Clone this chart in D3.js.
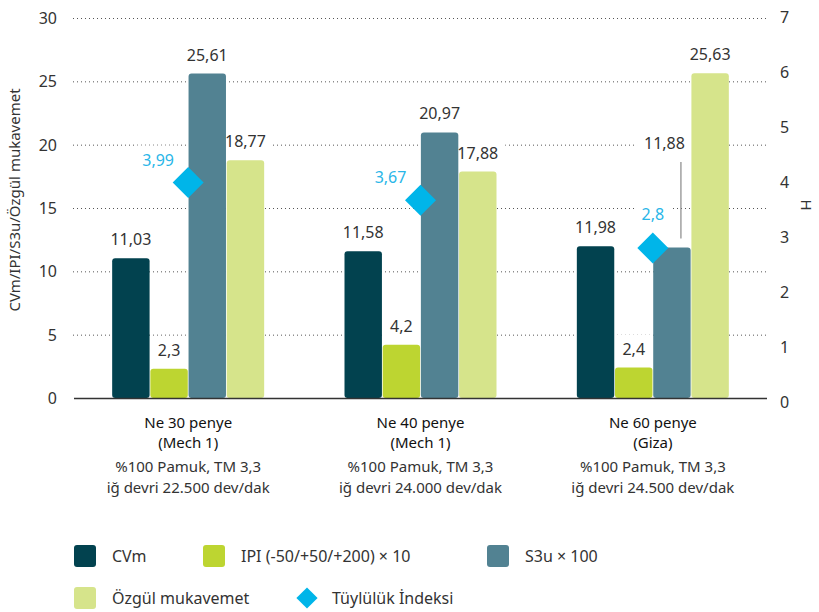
<!DOCTYPE html>
<html>
<head>
<meta charset="utf-8">
<title>Ne penye iplik karşılaştırma</title>
<script src="https://d3js.org/d3.v7.min.js"></script>
<style>
  body { margin: 0; background: #fff; }
  svg text { font-family: "Noto Sans", "Open Sans", sans-serif; fill: #333; }
</style>
</head>
<body>
<div id="chart"></div>
<script>
// data
var categories = ["Ne 30 penye", "Ne 40 penye", "Ne 60 penye"];
var catLine2 = ["(Mech 1)", "(Mech 1)", "(Giza)"];
var catLine3 = ["%100 Pamuk, TM 3,3", "%100 Pamuk, TM 3,3", "%100 Pamuk, TM 3,3"];
var catLine4 = ["iğ devri 22.500 dev/dak", "iğ devri 24.000 dev/dak", "iğ devri 24.500 dev/dak"];

var seriesNames = ["CVm", "IPI (-50/+50/+200) × 10", "S3u × 100", "Özgül mukavemet"];
var cvm = [11.03, 11.58, 11.98];
var ipi = [2.3, 4.2, 2.4];
var s3u = [25.61, 20.97, 11.88];
var ozgul = [18.77, 17.88, 25.63];
var tuyluluk = [3.99, 3.67, 2.8];
var tuylulukName = "Tüylülük İndeksi";

var leftTicks = [0, 5, 10, 15, 20, 25, 30];
var rightTicks = [0, 1, 2, 3, 4, 5, 6, 7];

var colors = ["#02424f", "#bdd531", "#528292", "#d6e48b"];
var diamondColor = "#00b5e9";

var w = 819, h = 612;
var svg = d3.select("#chart").append("svg").attr("width", w).attr("height", h);

var x0 = d3.scaleBand().domain(categories).range([72, 769]).padding(0);
var x1 = d3.scaleBand().domain(d3.range(4)).range([-76, 76]).paddingInner(0.02);
var y = d3.scaleLinear().domain([0, 30]).range([398, 18]);
var y2 = d3.scaleLinear().domain([0, 7]).range([402, 17]);

var fmt = function(v){ return String(v).replace(".", ","); };

// gridlines
svg.append("g").selectAll("line")
  .data(leftTicks.filter(function(d){ return d > 0; }))
  .enter().append("line")
  .attr("x1", 73).attr("x2", 767)
  .attr("y1", function(d){ return y(d) + 0.5; })
  .attr("y2", function(d){ return y(d) + 0.5; })
  .attr("stroke", "#555").attr("stroke-width", 1)
  .attr("stroke-dasharray", "1,3");

// left axis
var leftAxis = svg.append("g").attr("transform", "translate(57,0)")
  .call(d3.axisLeft(y).tickValues(leftTicks).tickSize(0).tickPadding(0));
leftAxis.select(".domain").remove();
leftAxis.selectAll("text").style("font-size", "16px").attr("dy", "0.35em");

// right axis
var rightAxis = svg.append("g").attr("transform", "translate(780,0)")
  .call(d3.axisRight(y2).tickValues(rightTicks).tickFormat(d3.format("d")).tickSize(0).tickPadding(0));
rightAxis.select(".domain").remove();
rightAxis.selectAll("text").style("font-size", "16px").attr("dy", "0.35em");

svg.append("text")
  .attr("transform", "translate(20,200) rotate(-90)")
  .attr("text-anchor", "middle")
  .style("font-size", "15px")
  .text("CVm/IPI/S3u/Özgül mukavemet");

svg.append("text")
  .attr("transform", "translate(801,205) rotate(90)")
  .attr("text-anchor", "middle")
  .style("font-size", "15px")
  .text("H");

// build rows for bars
var rows = [];
var allSeries = [cvm, ipi, s3u, ozgul];
categories.forEach(function(c, ci){
  allSeries.forEach(function(arr, si){
    rows.push({cat: c, ci: ci, si: si, value: arr[ci]});
  });
});

// label placement (raised label with leader for Ne 60 S3u)
function isRaised(d){ return d.ci === 2 && d.si === 2; }
function barCx(d){ return x0(d.cat) + x0.bandwidth() / 2 + x1(d.si) + x1.bandwidth() / 2; }

var bgLayer = svg.append("g");
var barLayer = svg.append("g");
var labelLayer = svg.append("g");

barLayer.selectAll("rect")
  .data(rows)
  .enter().append("rect")
  .attr("x", function(d){ return x0(d.cat) + x0.bandwidth() / 2 + x1(d.si); })
  .attr("y", function(d){ return y(d.value); })
  .attr("width", x1.bandwidth())
  .attr("height", function(d){ return y(0) - y(d.value); })
  .attr("rx", 3)
  .attr("fill", function(d){ return colors[d.si]; });

// baseline
svg.append("line")
  .attr("x1", 74).attr("x2", 767)
  .attr("y1", 398.5).attr("y2", 398.5)
  .attr("stroke", "#333").attr("stroke-width", 1.5);

// value labels
var barLabels = labelLayer.selectAll("text.val")
  .data(rows)
  .enter().append("text")
  .attr("class", "val")
  .attr("x", function(d){ return isRaised(d) ? barCx(d) + 13 : barCx(d); })
  .attr("y", function(d){ return isRaised(d) ? 149 : y(d.value) - 13; })
  .attr("text-anchor", function(d){ return isRaised(d) ? "end" : "middle"; })
  .style("font-size", "16px")
  .text(function(d){ return fmt(d.value); });

// leader line
rows.filter(isRaised).forEach(function(d){
  labelLayer.append("line")
    .attr("x1", barCx(d) + 9).attr("x2", barCx(d) + 9)
    .attr("y1", 162).attr("y2", y(d.value) - 9)
    .attr("stroke", "#888").attr("stroke-width", 1.2);
});

// diamonds
var diamondPlace = ["left", "left", "top"];
var diamond = d3.symbol().type(d3.symbolSquare).size(480);
var dGroup = labelLayer.selectAll("g.dia")
  .data(tuyluluk)
  .enter().append("g")
  .attr("class", "dia");
dGroup.append("path")
  .attr("d", diamond)
  .attr("fill", diamondColor)
  .attr("transform", function(d, i){
    return "translate(" + (x0(categories[i]) + x0.bandwidth() / 2) + "," + y2(d) + ") rotate(45)";
  });
var diaLabels = dGroup.append("text")
  .attr("x", function(d, i){
    var cx = x0(categories[i]) + x0.bandwidth() / 2;
    return diamondPlace[i] === "left" ? cx - 30 : cx;
  })
  .attr("y", function(d, i){
    return diamondPlace[i] === "left" ? y2(d) - 17 : y2(d) - 28;
  })
  .attr("text-anchor", "middle")
  .style("font-size", "16px")
  .style("fill", "#29b6e8")
  .text(function(d){ return fmt(d); });

// white boxes behind labels to break gridlines
function addBg(sel){
  sel.each(function(){
    var b = this.getBBox();
    bgLayer.append("rect")
      .attr("x", b.x - 7).attr("y", b.y - 3)
      .attr("width", b.width + 14).attr("height", b.height + 6)
      .attr("fill", "#fff");
  });
}
addBg(barLabels);
addBg(diaLabels);

// category labels
var catG = svg.append("g").selectAll("g")
  .data(categories)
  .enter().append("g")
  .attr("transform", function(d){ return "translate(" + (x0(d) + x0.bandwidth() / 2) + ",0)"; });
catG.append("text").attr("y", 428).attr("text-anchor", "middle")
  .style("font-size", "15px").style("fill", "#111")
  .text(function(d){ return d; });
catG.append("text").attr("y", 448).attr("text-anchor", "middle")
  .style("font-size", "15px").style("fill", "#111")
  .text(function(d, i){ return catLine2[i]; });
catG.append("text").attr("y", 472).attr("text-anchor", "middle")
  .style("font-size", "15px")
  .text(function(d, i){ return catLine3[i]; });
catG.append("text").attr("y", 493).attr("text-anchor", "middle")
  .style("font-size", "15px")
  .text(function(d, i){ return catLine4[i]; });

// legend
var legendPos = [[74, 556], [203, 556], [487, 556], [74, 598]];
var leg = svg.append("g").selectAll("g")
  .data(seriesNames)
  .enter().append("g")
  .attr("transform", function(d, i){ return "translate(" + legendPos[i][0] + "," + legendPos[i][1] + ")"; });
leg.append("rect")
  .attr("x", 0).attr("y", -11).attr("width", 22).attr("height", 22).attr("rx", 3)
  .attr("fill", function(d, i){ return colors[i]; });
leg.append("text")
  .attr("x", 38).attr("y", 0).attr("dy", "0.35em")
  .style("font-size", "16px")
  .text(function(d){ return d; });

var legD = svg.append("g").attr("transform", "translate(307,598)");
legD.append("path")
  .attr("d", d3.symbol().type(d3.symbolSquare).size(225))
  .attr("transform", "rotate(45)")
  .attr("fill", diamondColor);
legD.append("text")
  .attr("x", 25).attr("y", 0).attr("dy", "0.35em")
  .style("font-size", "16px")
  .text(tuylulukName);
</script>
</body>
</html>
